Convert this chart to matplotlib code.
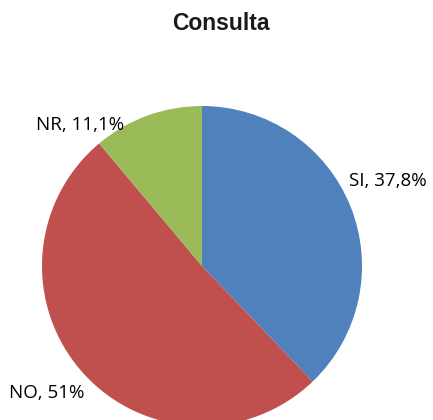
import matplotlib
matplotlib.use("Agg")
import matplotlib.pyplot as plt

labels = ["SI", "NO", "NR"]
values = [37.8, 51.0, 11.1]
pct_text = ["37,8%", "51%", "11,1%"]
colors = ["#4F81BD", "#C0504D", "#9BBB59"]
title = "Consulta"

W, H = 433, 420
fig = plt.figure(figsize=(W / 100, H / 100), dpi=100)
cx, cy, r = 202, 266, 160
ax = fig.add_axes([(cx - r) / W, (H - cy - r) / H, 2 * r / W, 2 * r / H])
wedges, _ = ax.pie(values, colors=colors, startangle=90, counterclock=False,
                   radius=1, wedgeprops=dict(linewidth=0))
for w in wedges:
    w.set_clip_on(False)
ax.set_xlim(-1, 1)
ax.set_ylim(-1, 1)
ax.set_aspect("equal")
ax.axis("off")

# label positions in pixels (centers)
label_px = [(388, 181), (47, 393), (80, 125)]
for (px, py), lab, pt in zip(label_px, labels, pct_text):
    ax.text((px - cx) / r, (cy - py) / r, f"{lab}, {pt}", ha="center", va="center",
            fontsize=13.5, family=["Open Sans", "DejaVu Sans"], color="#000000", clip_on=False)

fig.text(221 / W, 1 - 24 / H, title, ha="center", va="center", fontsize=16.5,
         fontweight="bold", family=["Liberation Sans", "DejaVu Sans"], color="#1a1a1a")

fig.savefig("out.png", dpi=100, facecolor="white")
